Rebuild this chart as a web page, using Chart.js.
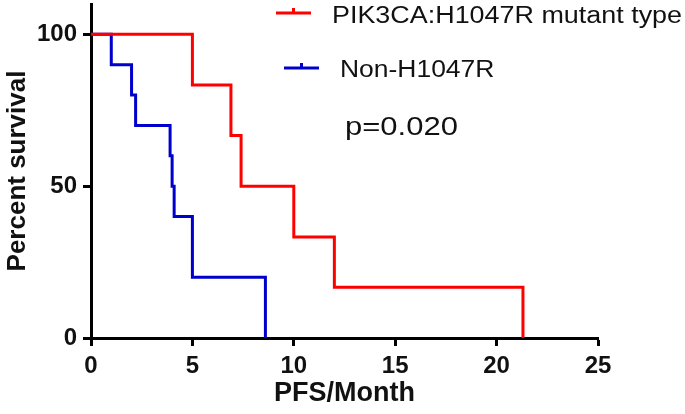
<!DOCTYPE html>
<html>
<head>
<meta charset="utf-8">
<script src="https://cdn.jsdelivr.net/npm/chart.js@4.4.1/dist/chart.umd.min.js"></script>
<style>
  html, body { margin: 0; padding: 0; background: #fff; }
  #wrap { width: 685px; height: 414px; position: relative; }
</style>
</head>
<body>
<div id="wrap"><canvas id="c" width="685" height="414"></canvas></div>
<script>
// ---- Data ----
const seriesNames = ["PIK3CA:H1047R mutant type", "Non-H1047R"];
const mutantTimes = [0, 5.0, 6.9, 7.4, 10.0, 12.0, 21.3];
const mutantSurvival = [100, 83.3, 66.7, 50, 33.3, 16.7, 0];
const nonTimes = [0, 1.0, 2.0, 2.2, 3.9, 4.0, 4.1, 5.0, 8.6];
const nonSurvival = [100, 90, 80, 70, 60, 50, 40, 20, 0];
const xTicks = [0, 5, 10, 15, 20, 25];
const yTicks = [0, 50, 100];
const pValueText = "p=0.020";
const xTitle = "PFS/Month";
const yTitle = "Percent survival";

const RED = '#ff0000';
const BLUE = '#0000cc';

function toPoints(ts, ss) { return ts.map((t, i) => ({ x: t, y: ss[i] })); }

const legendPlugin = {
  id: 'kmLegend',
  afterDraw(chart) {
    const ctx = chart.ctx;
    const items = [
      { color: RED, x1: 276, x2: 311, y: 13, tx: 332, ty: 23, sx: 1.17, label: seriesNames[0] },
      { color: BLUE, x1: 284, x2: 319, y: 68, tx: 340, ty: 77, sx: 1.15, label: seriesNames[1] }
    ];
    ctx.save();
    items.forEach(it => {
      ctx.strokeStyle = it.color;
      ctx.lineWidth = 3;
      ctx.beginPath();
      ctx.moveTo(it.x1, it.y);
      ctx.lineTo(it.x2, it.y);
      const mid = (it.x1 + it.x2) / 2;
      ctx.moveTo(mid, it.y);
      ctx.lineTo(mid, it.y - 5);
      ctx.stroke();
      ctx.save();
      ctx.translate(it.tx, it.ty);
      ctx.scale(it.sx, 1);
      ctx.fillStyle = '#111';
      ctx.font = '23px "Liberation Sans", Arial, sans-serif';
      ctx.textBaseline = 'alphabetic';
      ctx.textAlign = 'left';
      ctx.fillText(it.label, 0, 0);
      ctx.restore();
    });
    ctx.save();
    ctx.translate(345, 135);
    ctx.scale(1.24, 1);
    ctx.fillStyle = '#111';
    ctx.font = '25px "Liberation Sans", Arial, sans-serif';
    ctx.fillText(pValueText, 0, 0);
    ctx.restore();
    ctx.restore();
  }
};

new Chart(document.getElementById('c'), {
  type: 'line',
  data: {
    datasets: [
      {
        label: seriesNames[0],
        data: toPoints(mutantTimes, mutantSurvival),
        borderColor: RED,
        borderWidth: 3,
        stepped: 'before',
        pointRadius: 0,
        fill: false,
        order: 0
      },
      {
        label: seriesNames[1],
        data: toPoints(nonTimes, nonSurvival),
        borderColor: BLUE,
        borderWidth: 3,
        stepped: 'before',
        pointRadius: 0,
        fill: false,
        order: 1
      }
    ]
  },
  options: {
    responsive: false,
    animation: false,
    devicePixelRatio: 1,
    layout: { padding: { left: 0, right: 87, top: 4, bottom: 0 } },
    plugins: {
      legend: { display: false },
      tooltip: { enabled: false }
    },
    scales: {
      x: {
        type: 'linear',
        min: 0,
        max: 25,
        afterBuildTicks(axis) { axis.ticks = xTicks.map(v => ({ value: v })); },
        afterFit(scale) { scale.height = 76; scale.paddingLeft = 0; scale.paddingRight = 0; },
        border: { display: true, color: '#000', width: 3 },
        grid: { display: true, drawOnChartArea: false, drawTicks: true, tickLength: 8, tickWidth: 3, tickColor: '#000' },
        ticks: {
          color: '#111',
          padding: 6,
          maxRotation: 0,
          font: { family: '"Liberation Sans", Arial, sans-serif', size: 24, weight: 'bold' }
        },
        title: {
          display: true,
          text: xTitle,
          color: '#111',
          padding: { top: 0, bottom: 4 },
          font: { family: '"Liberation Sans", Arial, sans-serif', size: 27, weight: 'bold' }
        }
      },
      y: {
        type: 'linear',
        min: 0,
        max: 110,
        afterBuildTicks(axis) { axis.ticks = yTicks.map(v => ({ value: v })); },
        afterFit(scale) { scale.width = 91; scale.paddingTop = 0; scale.paddingBottom = 0; },
        border: { display: true, color: '#000', width: 3 },
        grid: { display: true, drawOnChartArea: false, drawTicks: true, tickLength: 8, tickWidth: 3, tickColor: '#000' },
        ticks: {
          color: '#111',
          padding: 6,
          font: { family: '"Liberation Sans", Arial, sans-serif', size: 24, weight: 'bold' }
        },
        title: {
          display: true,
          text: yTitle,
          color: '#111',
          padding: { top: 2, bottom: 0 },
          font: { family: '"Liberation Sans", Arial, sans-serif', size: 26, weight: 'bold' }
        }
      }
    }
  },
  plugins: [legendPlugin]
});
</script>
</body>
</html>
